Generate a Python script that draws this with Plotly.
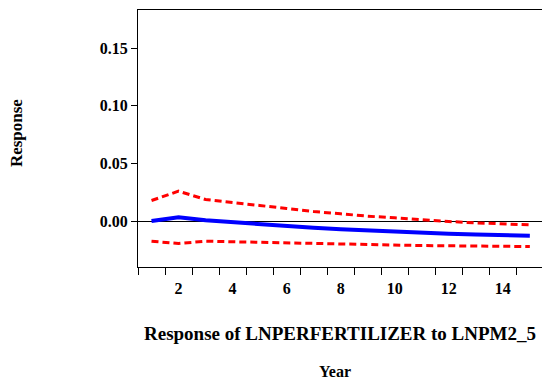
import plotly.graph_objects as go

years = list(range(1, 16))
response = [0.0000, 0.0033, 0.0007, -0.0010, -0.0030, -0.0045, -0.0059, -0.0071,
            -0.0082, -0.0094, -0.0102, -0.0111, -0.0117, -0.0123, -0.0128]
upper = [0.0178, 0.0259, 0.0187, 0.0158, 0.0135, 0.0109, 0.0082, 0.0063,
         0.0042, 0.0028, 0.0010, -0.0004, -0.0016, -0.0024, -0.0033]
lower = [-0.0175, -0.0195, -0.0175, -0.0180, -0.0187, -0.0193, -0.0198, -0.0204,
         -0.0207, -0.0210, -0.0213, -0.0215, -0.0215, -0.0219, -0.0222]
x_tick_labels = [2, 4, 6, 8, 10, 12, 14]
y_tick_vals = [0.00, 0.05, 0.10, 0.15]

FONT = "Liberation Serif"

fig = go.Figure()
fig.add_trace(go.Scatter(x=years, y=upper, mode="lines",
                         line=dict(color="#FF0000", width=3, dash="7px,4px")))
fig.add_trace(go.Scatter(x=years, y=lower, mode="lines",
                         line=dict(color="#FF0000", width=3, dash="7px,4px")))
fig.add_trace(go.Scatter(x=years, y=response, mode="lines",
                         line=dict(color="#0000FF", width=4)))

fig.update_layout(
    width=542, height=383,
    margin=dict(l=138, r=0, t=10, b=116),
    paper_bgcolor="white", plot_bgcolor="white",
    showlegend=False,
    font=dict(family=FONT, color="black", size=16),
    xaxis=dict(
        range=[0.5, 15.45],
        tickvals=x_tick_labels,
        ticktext=[str(v) for v in x_tick_labels],
        ticks="outside", ticklen=7, tickcolor="rgba(0,0,0,0)",
        tickfont=dict(family=FONT, size=16, weight="bold"),
        showgrid=False, zeroline=False,
        showline=True, linecolor="black", linewidth=1, mirror=True,
        minor=dict(tickvals=[v + 0.5 for v in range(0, 16)], ticks="outside",
                   ticklen=7, tickcolor="black", tickwidth=1, showgrid=False),
    ),
    yaxis=dict(
        range=[-0.0399, 0.1832],
        tickvals=y_tick_vals,
        tickformat=".2f",
        ticks="outside", ticklen=6, tickcolor="black",
        tickfont=dict(family=FONT, size=16, weight="bold"),
        showgrid=False,
        zeroline=True, zerolinecolor="black", zerolinewidth=1,
        showline=True, linecolor="black", linewidth=1, mirror=False,
    ),
    annotations=[
        dict(text="<b>Response of LNPERFERTILIZER to LNPM2_5</b>", xref="paper", yref="paper",
             x=0.5, y=-0.257, xanchor="center", yanchor="middle", showarrow=False,
             font=dict(family=FONT, size=19, color="black")),
        dict(text="<b>Year</b>", xref="paper", yref="paper",
             x=0.4876, y=-0.405, xanchor="center", yanchor="middle", showarrow=False,
             font=dict(family=FONT, size=16, color="black")),
        dict(text="<b>Response</b>", xref="paper", yref="paper",
             x=-0.302, y=0.521, xanchor="center", yanchor="middle", showarrow=False,
             textangle=-90,
             font=dict(family=FONT, size=17, color="black")),
    ],
)

fig.write_html("out.html")
